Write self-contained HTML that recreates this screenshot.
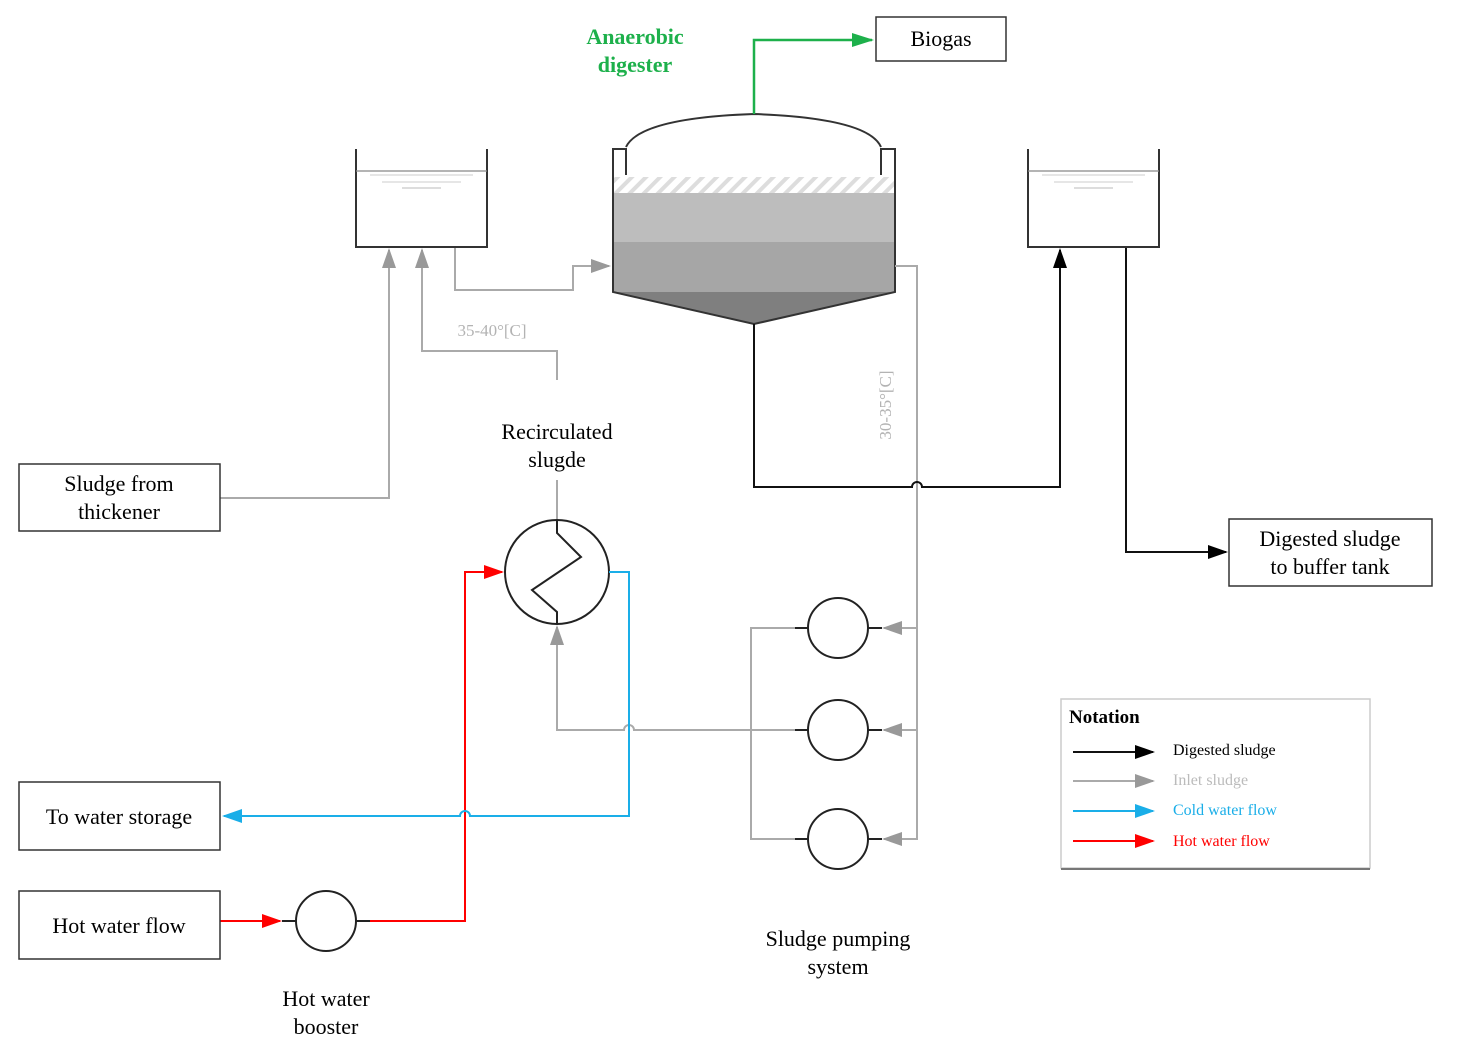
<!DOCTYPE html>
<html><head><meta charset="utf-8"><style>
body{margin:0;background:#fff}
svg{display:block}
text{font-family:"Liberation Serif",serif}
</style></head><body>
<svg width="1458" height="1056" viewBox="0 0 1458 1056" xmlns="http://www.w3.org/2000/svg">
<defs>
<marker id="agL" markerWidth="20" markerHeight="14" refX="18" refY="7" orient="auto" markerUnits="userSpaceOnUse"><path d="M0,0 L20,7 L0,14z" fill="#999"/></marker>
<marker id="ak" markerWidth="20" markerHeight="14" refX="18" refY="7" orient="auto" markerUnits="userSpaceOnUse"><path d="M0,0 L20,7 L0,14z" fill="#000"/></marker>
<marker id="ar" markerWidth="20" markerHeight="14" refX="18" refY="7" orient="auto" markerUnits="userSpaceOnUse"><path d="M0,0 L20,7 L0,14z" fill="#f00"/></marker>
<marker id="ab" markerWidth="20" markerHeight="14" refX="18" refY="7" orient="auto" markerUnits="userSpaceOnUse"><path d="M0,0 L20,7 L0,14z" fill="#1aaee8"/></marker>
<marker id="agr" markerWidth="22" markerHeight="14" refX="20" refY="7" orient="auto" markerUnits="userSpaceOnUse"><path d="M0,0 L22,7 L0,14z" fill="#1db04b"/></marker>
<pattern id="hatch" width="10" height="10" patternUnits="userSpaceOnUse" patternTransform="rotate(45)"><rect width="10" height="10" fill="#fff"/><rect width="4" height="10" fill="#ddd"/></pattern>
</defs>

<!-- digester -->
<rect x="613" y="177" width="282" height="16" fill="url(#hatch)"/>
<rect x="613" y="193" width="282" height="49" fill="#bdbdbd"/>
<rect x="613" y="242" width="282" height="50" fill="#a6a6a6"/>
<path d="M613,292 L895,292 L754,324 Z" fill="#7f7f7f"/>
<path d="M626,175 L626,149 L613,149 L613,292 L754,324 L895,292 L895,149 L881,149 L881,175" fill="none" stroke="#333" stroke-width="2"/>
<path d="M626,147 Q640,118 754,114 Q868,118 881,147" fill="none" stroke="#333" stroke-width="2"/>
<path d="M754,114 L754,40 L872,40" fill="none" stroke="#1db04b" stroke-width="2.5" marker-end="url(#agr)"/>
<rect x="876" y="17" width="130" height="44" fill="#fff" stroke="#333" stroke-width="1.5"/>
<text x="941" y="46" font-size="22" text-anchor="middle">Biogas</text>
<text x="635" y="44" font-size="22" font-weight="bold" fill="#1db04b" text-anchor="middle">Anaerobic</text>
<text x="635" y="72" font-size="22" font-weight="bold" fill="#1db04b" text-anchor="middle">digester</text>

<!-- tanks -->
<path d="M356,149 L356,247 L487,247 L487,149" fill="none" stroke="#333" stroke-width="2"/>
<line x1="356" y1="171" x2="487" y2="171" stroke="#888" stroke-width="1.2"/>
<line x1="370" y1="175" x2="473" y2="175" stroke="#ccc"/><line x1="382" y1="182" x2="461" y2="182" stroke="#ccc"/><line x1="402" y1="188" x2="441" y2="188" stroke="#bbb"/>
<path d="M1028,149 L1028,247 L1159,247 L1159,149" fill="none" stroke="#333" stroke-width="2"/>
<line x1="1028" y1="171" x2="1159" y2="171" stroke="#888" stroke-width="1.2"/>
<line x1="1042" y1="175" x2="1145" y2="175" stroke="#ccc"/><line x1="1054" y1="182" x2="1133" y2="182" stroke="#ccc"/><line x1="1074" y1="188" x2="1113" y2="188" stroke="#bbb"/>

<!-- gray inlet lines -->
<g fill="none" stroke="#aaa" stroke-width="2">
<path d="M455,248 L455,290 L573,290 L573,266 L609,266" marker-end="url(#agL)"/>
<path d="M220,498 L389,498 L389,250" marker-end="url(#agL)"/>
<path d="M557,380 L557,351 L422,351 L422,250" marker-end="url(#agL)"/>
<line x1="557" y1="480" x2="557" y2="519"/>
<path d="M895,266 L917,266 L917,839 L884,839" marker-end="url(#agL)"/>
<path d="M917,628 L884,628" marker-end="url(#agL)"/>
<path d="M917,730 L884,730" marker-end="url(#agL)"/>
<path d="M808,628 L751,628 L751,839 L808,839"/>
<path d="M808,730 L634,730 A5,5 0 0 0 624,730 L557,730 L557,627" marker-end="url(#agL)"/>
</g>
<text x="492" y="336" font-size="17" fill="#b3b3b3" text-anchor="middle">35-40°[C]</text>
<text x="0" y="0" font-size="17" fill="#b3b3b3" text-anchor="middle" transform="translate(891,405) rotate(-90)">30-35°[C]</text>

<!-- black digested -->
<g fill="none" stroke="#111" stroke-width="2">
<path d="M754,324 L754,487 L912,487 A5,5 0 0 1 922,487 L1060,487 L1060,250" marker-end="url(#ak)"/>
<path d="M1126,248 L1126,552 L1226,552" marker-end="url(#ak)"/>
</g>
<rect x="1229" y="519" width="203" height="67" fill="#fff" stroke="#333" stroke-width="1.5"/>
<text x="1330" y="546" font-size="22" text-anchor="middle">Digested sludge</text>
<text x="1330" y="574" font-size="22" text-anchor="middle">to buffer tank</text>

<!-- pumps -->
<g fill="#fff" stroke="#222" stroke-width="2">
<circle cx="838" cy="628" r="30"/><circle cx="838" cy="730" r="30"/><circle cx="838" cy="839" r="30"/>
<path d="M795,628H808M868,628H882M795,730H808M868,730H882M795,839H808M868,839H882" fill="none"/>
</g>
<text x="838" y="946" font-size="22" text-anchor="middle">Sludge pumping</text>
<text x="838" y="974" font-size="22" text-anchor="middle">system</text>

<!-- heat exchanger -->
<circle cx="557" cy="572" r="52" fill="#fff" stroke="#222" stroke-width="2"/>
<path d="M557,520 L557,533 L581,557 L532,590 L557,612 L557,624" fill="none" stroke="#222" stroke-width="2"/>
<text x="557" y="439" font-size="22" text-anchor="middle">Recirculated</text>
<text x="557" y="467" font-size="22" text-anchor="middle">slugde</text>

<!-- water -->
<path d="M370,921 L465,921 L465,572 L502,572" fill="none" stroke="#f00" stroke-width="2" marker-end="url(#ar)"/>
<path d="M609,572 L629,572 L629,816 L470,816 A5,5 0 0 0 460,816 L224,816" fill="none" stroke="#1aaee8" stroke-width="2" marker-end="url(#ab)"/>
<path d="M220,921 L280,921" fill="none" stroke="#f00" stroke-width="2" marker-end="url(#ar)"/>
<circle cx="326" cy="921" r="30" fill="#fff" stroke="#222" stroke-width="2"/>
<path d="M282,921H296M356,921H370" stroke="#222" stroke-width="2"/>
<text x="326" y="1006" font-size="22" text-anchor="middle">Hot water</text>
<text x="326" y="1034" font-size="22" text-anchor="middle">booster</text>

<!-- left boxes -->
<g fill="#fff" stroke="#333" stroke-width="1.5">
<rect x="19" y="464" width="201" height="67"/>
<rect x="19" y="782" width="201" height="68"/>
<rect x="19" y="891" width="201" height="68"/>
</g>
<text x="119" y="491" font-size="22" text-anchor="middle">Sludge from</text>
<text x="119" y="519" font-size="22" text-anchor="middle">thickener</text>
<text x="119" y="824" font-size="22" text-anchor="middle">To water storage</text>
<text x="119" y="933" font-size="22" text-anchor="middle">Hot water flow</text>

<!-- legend -->
<rect x="1061" y="699" width="309" height="169" fill="#fff" stroke="#ccc" stroke-width="1.5"/>
<line x1="1061" y1="869" x2="1370" y2="869" stroke="#777" stroke-width="2"/>
<text x="1069" y="723" font-size="19" font-weight="bold">Notation</text>
<g stroke-width="2">
<line x1="1073" y1="752" x2="1153" y2="752" stroke="#111" marker-end="url(#ak)"/>
<line x1="1073" y1="781" x2="1153" y2="781" stroke="#aaa" marker-end="url(#agL)"/>
<line x1="1073" y1="811" x2="1153" y2="811" stroke="#1aaee8" marker-end="url(#ab)"/>
<line x1="1073" y1="841" x2="1153" y2="841" stroke="#f00" marker-end="url(#ar)"/>
</g>
<text x="1173" y="755" font-size="16">Digested sludge</text>
<text x="1173" y="785" font-size="16" fill="#bbb">Inlet sludge</text>
<text x="1173" y="815" font-size="16" fill="#1aaee8">Cold water flow</text>
<text x="1173" y="846" font-size="16" fill="#f00">Hot water flow</text>
</svg>
</body></html>
